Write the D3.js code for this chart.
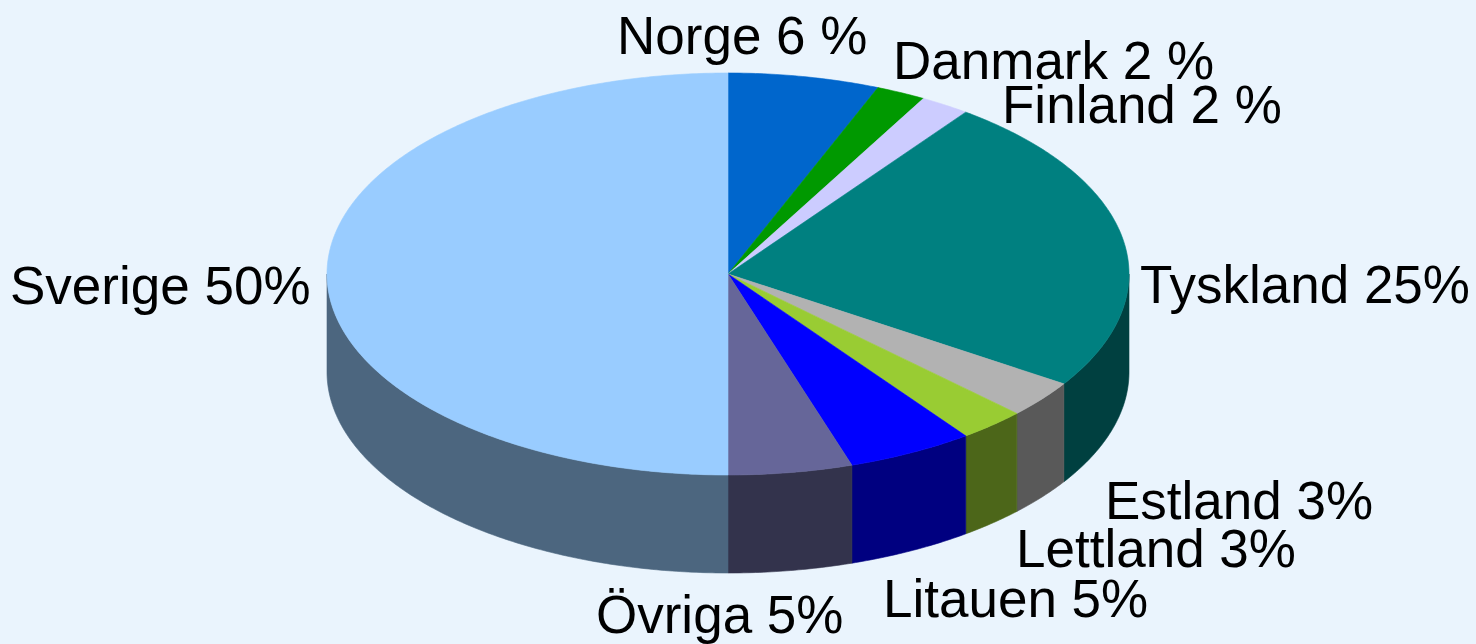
<!DOCTYPE html>
<html>
<head>
  <meta charset="utf-8">
  <script src="https://d3js.org/d3.v7.min.js"></script>
  <style>
    html, body { margin: 0; padding: 0; background: #eaf4fd; }
    svg { display: block; }
  </style>
</head>
<body>
<script>
  // shares (clockwise from 12 o'clock)
  var countries = ["Norge", "Danmark", "Finland", "Tyskland", "Estland", "Lettland", "Litauen", "Övriga", "Sverige"];
  var shares = [6.1, 2.0, 2.0, 24.1, 3.0, 2.7, 5.1, 5.0, 50.0];
  var labels = ["Norge 6 %", "Danmark 2 %", "Finland 2 %", "Tyskland 25%", "Estland 3%", "Lettland 3%", "Litauen 5%", "Övriga 5%", "Sverige 50%"];
  var topColors = ["#0066cc", "#009900", "#ccccff", "#008080", "#b2b2b2", "#99cc33", "#0000ff", "#666699", "#99ccff"];
  var sideColors = ["#003366", "#004c00", "#66667f", "#004040", "#595959", "#4c6619", "#000080", "#33334c", "#4c667f"];
  // label anchor (left x, baseline y)
  var labelPos = [[617, 54], [893, 79], [1002, 123], [1140, 303], [1105, 519], [1016, 567], [883, 617], [596, 633], [10, 304]];

  function draw() {
    "use strict";

    var width = 1476, height = 644;
    var cx = 728, cy = 274, rx = 401, ry = 201, depth = 98;

    var svg = d3.select("body").append("svg")
        .attr("width", width)
        .attr("height", height);

    var data = countries.map(function(c, i) {
      return {name: c, value: shares[i], i: i};
    });

    var pie = d3.pie().sort(null).value(function(d) { return d.value; })
        .startAngle(0).endAngle(2 * Math.PI);
    var arcs = pie(data);

    function pt(a, dy) {
      return [cx + rx * Math.sin(a), cy - ry * Math.cos(a) + (dy || 0)];
    }

    function arcPts(a0, a1, dy) {
      var n = Math.max(2, Math.ceil((a1 - a0) / 0.01));
      return d3.range(n + 1).map(function(k) { return pt(a0 + (a1 - a0) * k / n, dy); });
    }

    var line = d3.line();

    // front walls (only the part facing the viewer, pi/2 .. 3pi/2)
    svg.append("g").attr("class", "sides")
      .selectAll("path")
      .data(arcs.filter(function(a) {
        return a.endAngle > Math.PI / 2 && a.startAngle < 3 * Math.PI / 2;
      }))
      .join("path")
        .attr("d", function(a) {
          var a0 = Math.max(a.startAngle, Math.PI / 2),
              a1 = Math.min(a.endAngle, 3 * Math.PI / 2);
          var topEdge = arcPts(a0, a1, 0);
          var bottomEdge = arcPts(a0, a1, depth).reverse();
          return line(topEdge.concat(bottomEdge)) + "Z";
        })
        .attr("fill", function(a) { return sideColors[a.data.i]; })
        .attr("stroke", function(a) { return sideColors[a.data.i]; })
        .attr("stroke-width", 0.6);

    // top faces
    svg.append("g").attr("class", "tops")
      .selectAll("path")
      .data(arcs)
      .join("path")
        .attr("d", function(a) {
          var pts = [[cx, cy]].concat(arcPts(a.startAngle, a.endAngle, 0));
          return line(pts) + "Z";
        })
        .attr("fill", function(a) { return topColors[a.data.i]; })
        .attr("stroke", function(a) { return topColors[a.data.i]; })
        .attr("stroke-width", 0.6);

    // labels
    svg.append("g").attr("class", "labels")
      .selectAll("text")
      .data(arcs)
      .join("text")
        .attr("x", function(a) { return labelPos[a.data.i][0]; })
        .attr("y", function(a) { return labelPos[a.data.i][1]; })
        .style("font-family", "'Liberation Sans', Arial, sans-serif")
        .style("font-size", "53px")
        .style("fill", "#000")
        .text(function(a) { return labels[a.data.i]; });
  }

  draw();
</script>
</body>
</html>
